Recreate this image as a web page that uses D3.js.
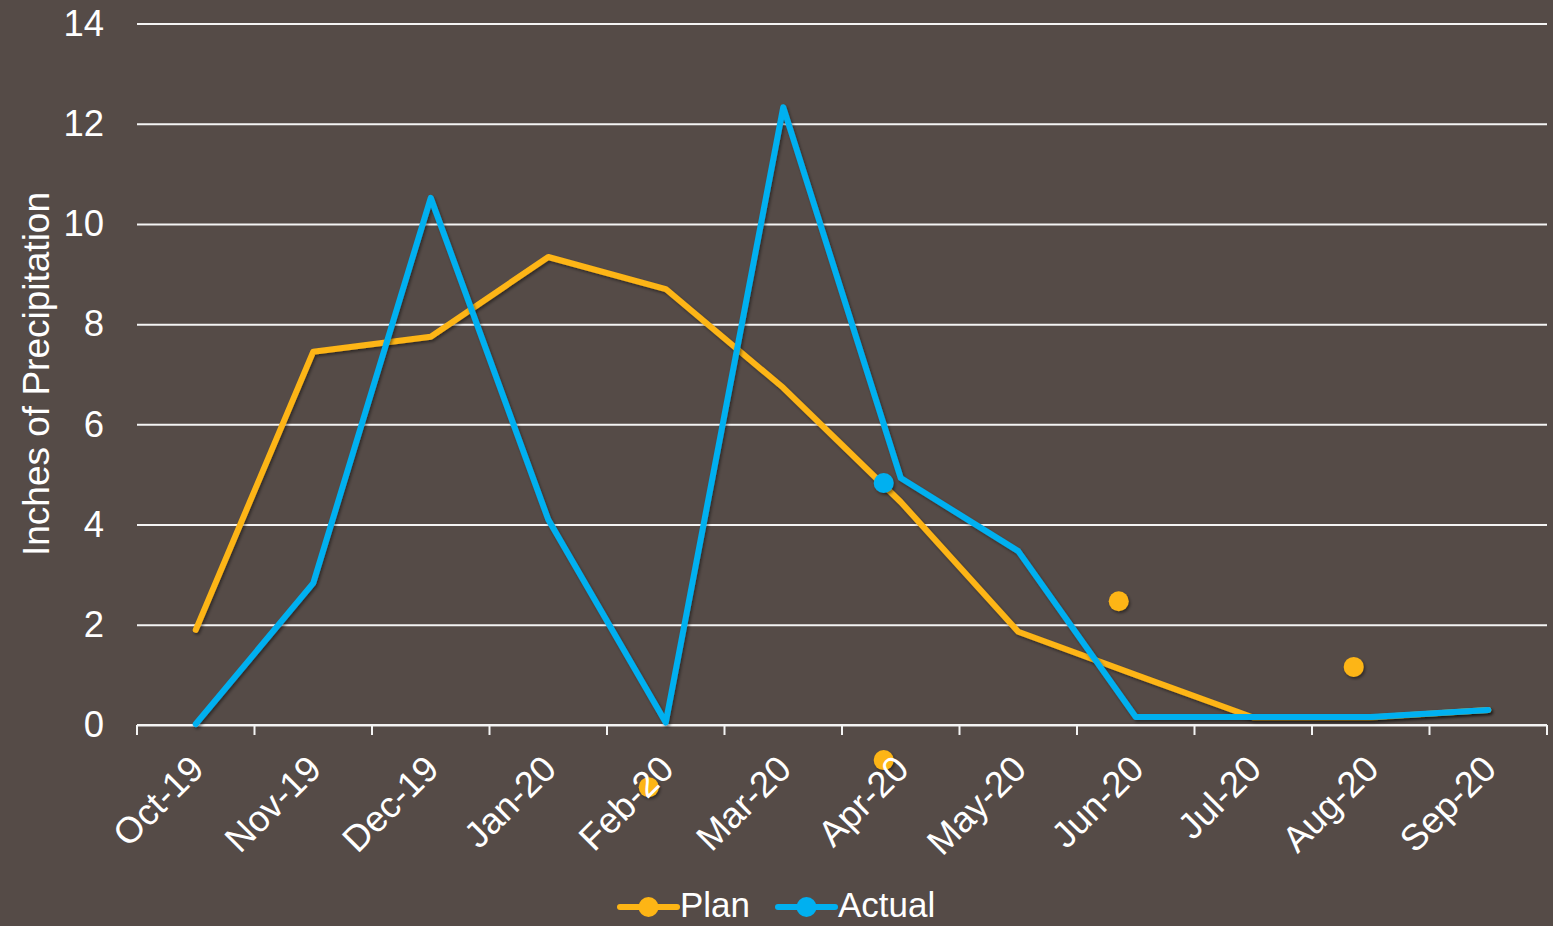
<!DOCTYPE html>
<html>
<head>
<meta charset="utf-8">
<script src="https://cdn.jsdelivr.net/npm/d3@7"></script>
<style>
    html, body { margin: 0; padding: 0; background: #554b47; }
    svg { display: block; }
    text { font-family: "Liberation Sans", Arial, sans-serif; fill: #ffffff; }
</style>
</head>
<body>
<svg id="chart"></svg>
<script>
// Chart data
const months = ['Oct-19', 'Nov-19', 'Dec-19', 'Jan-20', 'Feb-20', 'Mar-20',
                'Apr-20', 'May-20', 'Jun-20', 'Jul-20', 'Aug-20', 'Sep-20'];
const planValues = [1.9, 7.45, 7.75, 9.34, 8.7, 6.73, 4.45, 1.86, 1.0, 0.15, 0.15, 0.3];
const actualValues = [0.02, 2.83, 10.52, 4.1, 0.05, 12.33, 4.93, 3.47, 0.16, 0.16, 0.16, 0.3];
// loose markers left over in the original chart
const planDotMonths = ['Feb-20', 'Apr-20', 'Jun-20', 'Aug-20'];
const planDotValues = [-1.24, -0.7, 2.47, 1.16];
const actualDotMonths = ['Apr-20'];
const actualDotValues = [4.83];
const yTicks = [0, 2, 4, 6, 8, 10, 12, 14];

const CONFIG = {
    width: 1553,
    height: 926,
    left: 137,
    right: 1547,
    top: 23.5,
    bottom: 725,
    fontSize: 36.5,
    lineWidth: 6,
    dotRadius: 10,
    dotShift: -0.145,
    planColor: '#fdb515',
    actualColor: '#00b0f0'
};

const svg = d3.select('#chart')
    .attr('width', CONFIG.width)
    .attr('height', CONFIG.height);

svg.append('rect')
    .attr('width', CONFIG.width)
    .attr('height', CONFIG.height)
    .attr('fill', '#554b47');

// soft shadow under the lines
const defs = svg.append('defs');
defs.append('filter')
    .attr('id', 'shadow')
    .attr('x', '-20%').attr('y', '-20%')
    .attr('width', '140%').attr('height', '140%')
    .append('feDropShadow')
    .attr('dx', 1.5)
    .attr('dy', 2)
    .attr('stdDeviation', 1.6)
    .attr('flood-color', '#000')
    .attr('flood-opacity', 0.45);

const x = d3.scaleBand()
    .domain(months)
    .range([CONFIG.left, CONFIG.right])
    .padding(0);

const y = d3.scaleLinear()
    .domain([0, 14])
    .range([CONFIG.bottom, CONFIG.top]);

const cx = m => x(m) + x.bandwidth() / 2;

// Gridlines + y labels
const yAxis = svg.append('g')
    .attr('transform', `translate(${CONFIG.left},0)`)
    .call(d3.axisLeft(y)
        .tickValues(yTicks)
        .tickSize(-(CONFIG.right - CONFIG.left))
        .tickPadding(33));

yAxis.select('.domain').remove();
yAxis.selectAll('.tick line')
    .attr('stroke', '#f4f4f4')
    .attr('stroke-width', 2);
yAxis.selectAll('.tick text')
    .style('font-size', CONFIG.fontSize + 'px')
    .style('font-family', '"Liberation Sans", Arial, sans-serif')
    .attr('fill', '#fff');

// x axis line and tick marks at band edges
const xAxis = svg.append('g');
xAxis.append('line')
    .attr('x1', CONFIG.left)
    .attr('x2', CONFIG.right)
    .attr('y1', y(0))
    .attr('y2', y(0))
    .attr('stroke', '#f4f4f4')
    .attr('stroke-width', 2);

xAxis.selectAll('.edge')
    .data(months.concat(['end']))
    .enter()
    .append('line')
    .attr('class', 'edge')
    .attr('x1', d => d === 'end' ? CONFIG.right : x(d))
    .attr('x2', d => d === 'end' ? CONFIG.right : x(d))
    .attr('y1', y(0))
    .attr('y2', y(0) + 10)
    .attr('stroke', '#f4f4f4')
    .attr('stroke-width', 2);

// Loose markers (drawn under the labels)
function drawDots(cats, vals, color) {
    svg.append('g')
        .selectAll('circle')
        .data(cats.map((m, i) => ({ m, v: vals[i] })))
        .enter()
        .append('circle')
        .attr('cx', d => cx(d.m) + CONFIG.dotShift * x.bandwidth())
        .attr('cy', d => y(d.v))
        .attr('r', CONFIG.dotRadius)
        .attr('fill', color)
        .attr('filter', 'url(#shadow)');
}

drawDots(planDotMonths, planDotValues, CONFIG.planColor);

// x labels, rotated
svg.append('g')
    .selectAll('text')
    .data(months)
    .enter()
    .append('text')
    .attr('transform', d => `translate(${cx(d) + 1},${y(0) + 37}) rotate(-45)`)
    .attr('text-anchor', 'end')
    .attr('dy', '0.35em')
    .style('font-size', CONFIG.fontSize + 'px')
    .text(d => d);

// Lines
const line = d3.line()
    .x(d => cx(d.m))
    .y(d => y(d.v));

function drawLine(vals, color) {
    svg.append('path')
        .datum(months.map((m, i) => ({ m, v: vals[i] })))
        .attr('d', line)
        .attr('fill', 'none')
        .attr('stroke', color)
        .attr('stroke-width', CONFIG.lineWidth)
        .attr('stroke-linecap', 'round')
        .attr('stroke-linejoin', 'round')
        .attr('filter', 'url(#shadow)');
}

drawLine(planValues, CONFIG.planColor);
drawLine(actualValues, CONFIG.actualColor);
drawDots(actualDotMonths, actualDotValues, CONFIG.actualColor);

// Y axis title
svg.append('text')
    .attr('transform', 'translate(36,374) rotate(-90)')
    .attr('text-anchor', 'middle')
    .attr('dy', '0.35em')
    .style('font-size', '37px')
    .text('Inches of Precipitation');

// Legend
const legend = [
    { name: 'Plan', color: CONFIG.planColor, x: 620 },
    { name: 'Actual', color: CONFIG.actualColor, x: 778 }
];
const legendY = 907;

const items = svg.append('g')
    .selectAll('g')
    .data(legend)
    .enter()
    .append('g')
    .attr('transform', d => `translate(${d.x},${legendY})`);

items.append('line')
    .attr('x1', 0)
    .attr('x2', 57)
    .attr('stroke', d => d.color)
    .attr('stroke-width', CONFIG.lineWidth)
    .attr('stroke-linecap', 'round');

items.append('circle')
    .attr('cx', 28.5)
    .attr('r', CONFIG.dotRadius)
    .attr('fill', d => d.color);

items.append('text')
    .attr('x', 60)
    .attr('dy', '0.28em')
    .style('font-size', '35px')
    .text(d => d.name);
</script>
</body>
</html>
